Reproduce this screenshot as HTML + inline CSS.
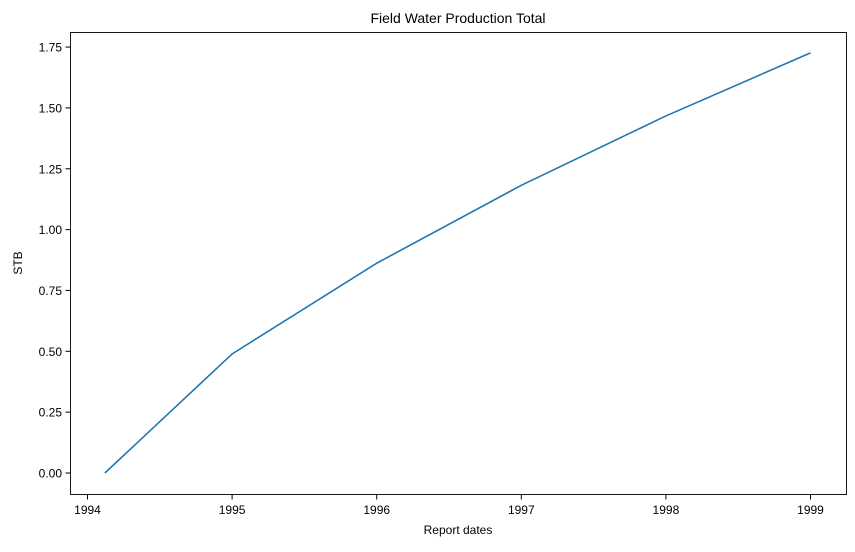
<!DOCTYPE html>
<html><head><meta charset="utf-8"><style>
body{margin:0;background:#fff;}
svg text{font-family:"Liberation Sans","DejaVu Sans",sans-serif;fill:#000;}
</style></head><body>
<svg id="chart" width="855" height="547" xmlns="http://www.w3.org/2000/svg">
<rect width="855" height="547" fill="#fff"/>
<text x="458" y="23" font-size="14" text-anchor="middle">Field Water Production Total</text>
<g id="axes"></g>
<path id="line" fill="none" stroke="#1f77b4" stroke-width="1.6"/>
<rect x="70.5" y="32.5" width="776" height="462" fill="none" stroke="#000" stroke-width="0.9"/>
<text x="458" y="534" font-size="12" text-anchor="middle">Report dates</text>
<text x="22" y="263" font-size="12" text-anchor="middle" transform="rotate(-90 22 263)">STB</text>
</svg>
<script>
const dates = [1994.12, 1995, 1996, 1997, 1998, 1999];
const values = [0.0, 0.489, 0.862, 1.182, 1.467, 1.726];
const xTicks = [1994, 1995, 1996, 1997, 1998, 1999];
const yTicks = [0, 0.25, 0.5, 0.75, 1.0, 1.25, 1.5, 1.75];
const yTickLabels = ["0.00","0.25","0.50","0.75","1.00","1.25","1.50","1.75"];

function xs(v){return 87.5 + (v - 1994) * 144.6;}
function ys(v){return 473 - v * 243.4;}
const NS = "http://www.w3.org/2000/svg";
const axes = document.getElementById('axes');
xTicks.forEach(t => {
  const l = document.createElementNS(NS,'line');
  l.setAttribute('x1',xs(t));l.setAttribute('x2',xs(t));l.setAttribute('y1',494.5);l.setAttribute('y2',499.5);l.setAttribute('stroke','#000');
  
  
  axes.appendChild(l);
  const tx = document.createElementNS(NS,'text');
  tx.setAttribute('x',xs(t));tx.setAttribute('y',514);tx.setAttribute('font-size','12');tx.setAttribute('text-anchor','middle');
  tx.textContent = t;
  
  
  axes.appendChild(tx);
});
yTicks.forEach((t,i) => {
  const l = document.createElementNS(NS,'line');
  l.setAttribute('x1',65.5);l.setAttribute('x2',70.5);l.setAttribute('y1',ys(t));l.setAttribute('y2',ys(t));l.setAttribute('stroke','#000');
  
  
  axes.appendChild(l);
  const tx = document.createElementNS(NS,'text');
  tx.setAttribute('x',62);tx.setAttribute('y',ys(t)+4.5);tx.setAttribute('font-size','12');tx.setAttribute('text-anchor','end');
  tx.textContent = yTickLabels[i];
  
  
  axes.appendChild(tx);
});
document.getElementById('line').setAttribute('d', dates.map((d,i)=>(i?'L':'M')+xs(d)+','+ys(values[i])).join(' '));
</script>
</body></html>
